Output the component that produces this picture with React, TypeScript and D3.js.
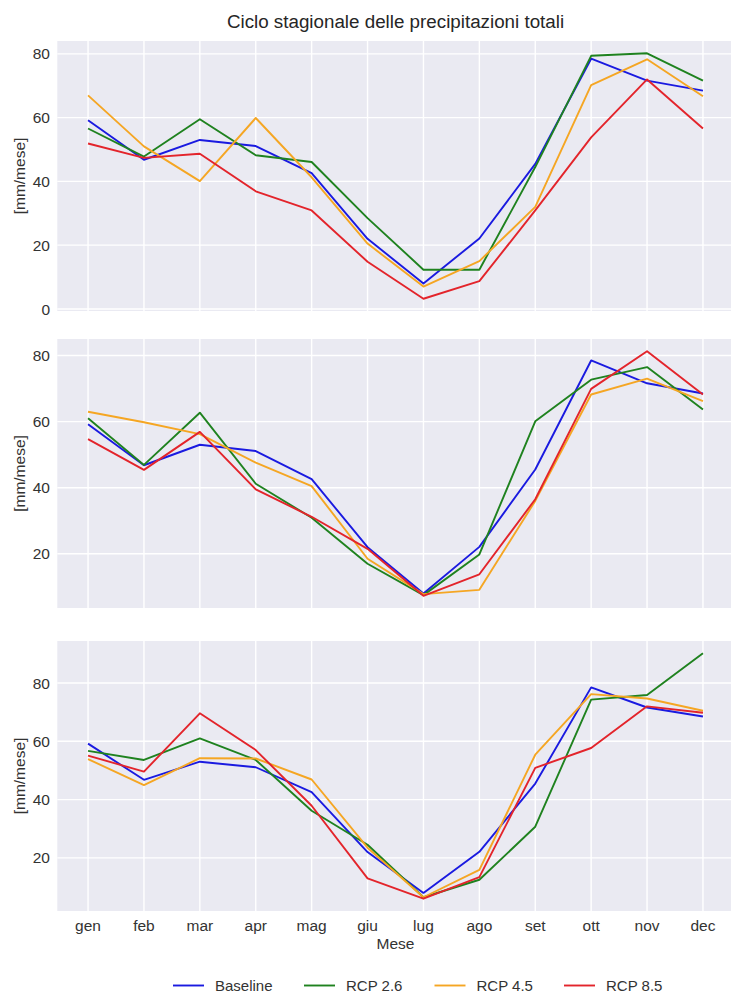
import React from "react";
import * as d3 from "d3";

// Monthly total precipitation (mm/month) — seasonal cycle, three periods
const months = ["gen", "feb", "mar", "apr", "mag", "giu", "lug", "ago", "set", "ott", "nov", "dec"];

const baseline = [59.2, 46.8, 53.0, 51.1, 42.6, 22.0, 8.0, 22.1, 45.5, 78.5, 71.6, 68.5];

const rcp26Period1 = [56.6, 47.8, 59.5, 48.2, 46.1, 28.5, 12.3, 12.3, 44.5, 79.4, 80.2, 71.6];
const rcp45Period1 = [67.0, 51.0, 40.1, 59.9, 41.3, 20.5, 7.0, 15.0, 32.0, 70.2, 78.3, 66.7];
const rcp85Period1 = [51.9, 47.4, 48.7, 36.9, 30.9, 14.8, 3.2, 8.7, 30.9, 53.8, 72.0, 56.6];

const rcp26Period2 = [61.0, 46.9, 62.7, 41.2, 30.9, 17.0, 7.5, 19.8, 60.1, 72.7, 76.5, 63.7];
const rcp45Period2 = [63.0, 59.8, 56.2, 47.6, 40.5, 18.5, 7.8, 9.1, 36.0, 68.2, 73.0, 66.2];
const rcp85Period2 = [54.7, 45.4, 56.9, 39.5, 31.2, 21.5, 7.3, 13.8, 36.5, 69.9, 81.3, 68.2];

const rcp26Period3 = [56.7, 53.6, 61.0, 53.6, 36.2, 24.5, 6.5, 12.5, 30.7, 74.3, 75.9, 90.2];
const rcp45Period3 = [53.9, 45.0, 54.2, 54.1, 46.9, 23.5, 6.5, 15.9, 55.4, 76.2, 74.7, 70.5];
const rcp85Period3 = [55.1, 49.6, 69.6, 57.0, 37.9, 13.0, 6.0, 13.4, 50.9, 57.7, 72.0, 69.8];

const seriesNames = ["Baseline", "RCP 2.6", "RCP 4.5", "RCP 8.5"];
const seriesColors = ["#1a1ae0", "#1f821f", "#f5a623", "#e3242b"];

const yTickValues = [0, 20, 40, 60, 80];

const titleText = "Ciclo stagionale delle precipitazioni totali";
const yLabelText = "[mm/mese]";
const xLabelText = "Mese";

const panels = [
  [baseline, rcp26Period1, rcp45Period1, rcp85Period1],
  [baseline, rcp26Period2, rcp45Period2, rcp85Period2],
  [baseline, rcp26Period3, rcp45Period3, rcp85Period3],
];

const W = 731;
const H = 995;
const FONT = "'Liberation Sans', Arial, sans-serif";
const TEXT = "#333333";
const BG = "#EAEAF2";

const plotLeft = 57.3;
const plotRight = 733.7;
const panelBoxes = [
  { top: 41, bottom: 311 },
  { top: 339, bottom: 608 },
  { top: 641, bottom: 911 },
];

export default function App() {
  const x = d3
    .scaleLinear()
    .domain([-0.55, months.length - 1 + 0.55])
    .range([plotLeft, plotRight]);

  const legendX = [173, 304, 434.5, 564];

  return (
    <div style={{ position: "absolute", left: 0, top: 0 }}>
      <svg width={W} height={H} style={{ display: "block", background: "#fff" }}>
        <text
          x={(plotLeft + plotRight) / 2}
          y={28}
          textAnchor="middle"
          fontFamily={FONT}
          fontSize={18.8}
          fill="#262626"
        >
          {titleText}
        </text>
        {panels.map((series, pi) => {
          const box = panelBoxes[pi];
          const all = series.flat();
          const lo = d3.min(all) as number;
          const hi = d3.max(all) as number;
          const pad = (hi - lo) * 0.05;
          const y = d3
            .scaleLinear()
            .domain([lo - pad, hi + pad])
            .range([box.bottom, box.top]);
          const ticks = yTickValues.filter((t) => t >= lo - pad && t <= hi + pad);
          const line = d3
            .line<number>()
            .x((_, i) => x(i))
            .y((d) => y(d));
          return (
            <g key={pi}>
              <rect
                x={plotLeft}
                y={box.top}
                width={plotRight - plotLeft}
                height={box.bottom - box.top}
                fill={BG}
              />
              {ticks.map((t) => (
                <line
                  key={"h" + t}
                  x1={plotLeft}
                  x2={plotRight}
                  y1={y(t)}
                  y2={y(t)}
                  stroke="#fff"
                  strokeWidth={1.4}
                />
              ))}
              {months.map((m, i) => (
                <line
                  key={"v" + m}
                  x1={x(i)}
                  x2={x(i)}
                  y1={box.top}
                  y2={box.bottom}
                  stroke="#fff"
                  strokeWidth={1.4}
                />
              ))}
              {ticks.map((t) => (
                <text
                  key={"t" + t}
                  x={50}
                  y={y(t)}
                  dy="0.36em"
                  textAnchor="end"
                  fontFamily={FONT}
                  fontSize={15.5}
                  fill={TEXT}
                >
                  {t}
                </text>
              ))}
              <text
                transform={`translate(25,${(box.top + box.bottom) / 2}) rotate(-90)`}
                textAnchor="middle"
                fontFamily={FONT}
                fontSize={15.5}
                fill={TEXT}
              >
                {yLabelText}
              </text>
              {series.map((vals, si) => (
                <path
                  key={si}
                  d={line(vals) as string}
                  fill="none"
                  stroke={seriesColors[si]}
                  strokeWidth={1.9}
                  strokeLinejoin="round"
                />
              ))}
            </g>
          );
        })}
        {months.map((m, i) => (
          <text
            key={"m" + m}
            x={x(i)}
            y={931}
            textAnchor="middle"
            fontFamily={FONT}
            fontSize={15.5}
            fill={TEXT}
          >
            {m}
          </text>
        ))}
        <text
          x={(plotLeft + plotRight) / 2}
          y={949}
          textAnchor="middle"
          fontFamily={FONT}
          fontSize={15.5}
          fill={TEXT}
        >
          {xLabelText}
        </text>
        {seriesNames.map((name, i) => (
          <g key={name}>
            <line
              x1={legendX[i]}
              x2={legendX[i] + 31}
              y1={985.5}
              y2={985.5}
              stroke={seriesColors[i]}
              strokeWidth={1.9}
            />
            <text
              x={legendX[i] + 42}
              y={991}
              fontFamily={FONT}
              fontSize={15}
              fill={TEXT}
            >
              {name}
            </text>
          </g>
        ))}
      </svg>
    </div>
  );
}
